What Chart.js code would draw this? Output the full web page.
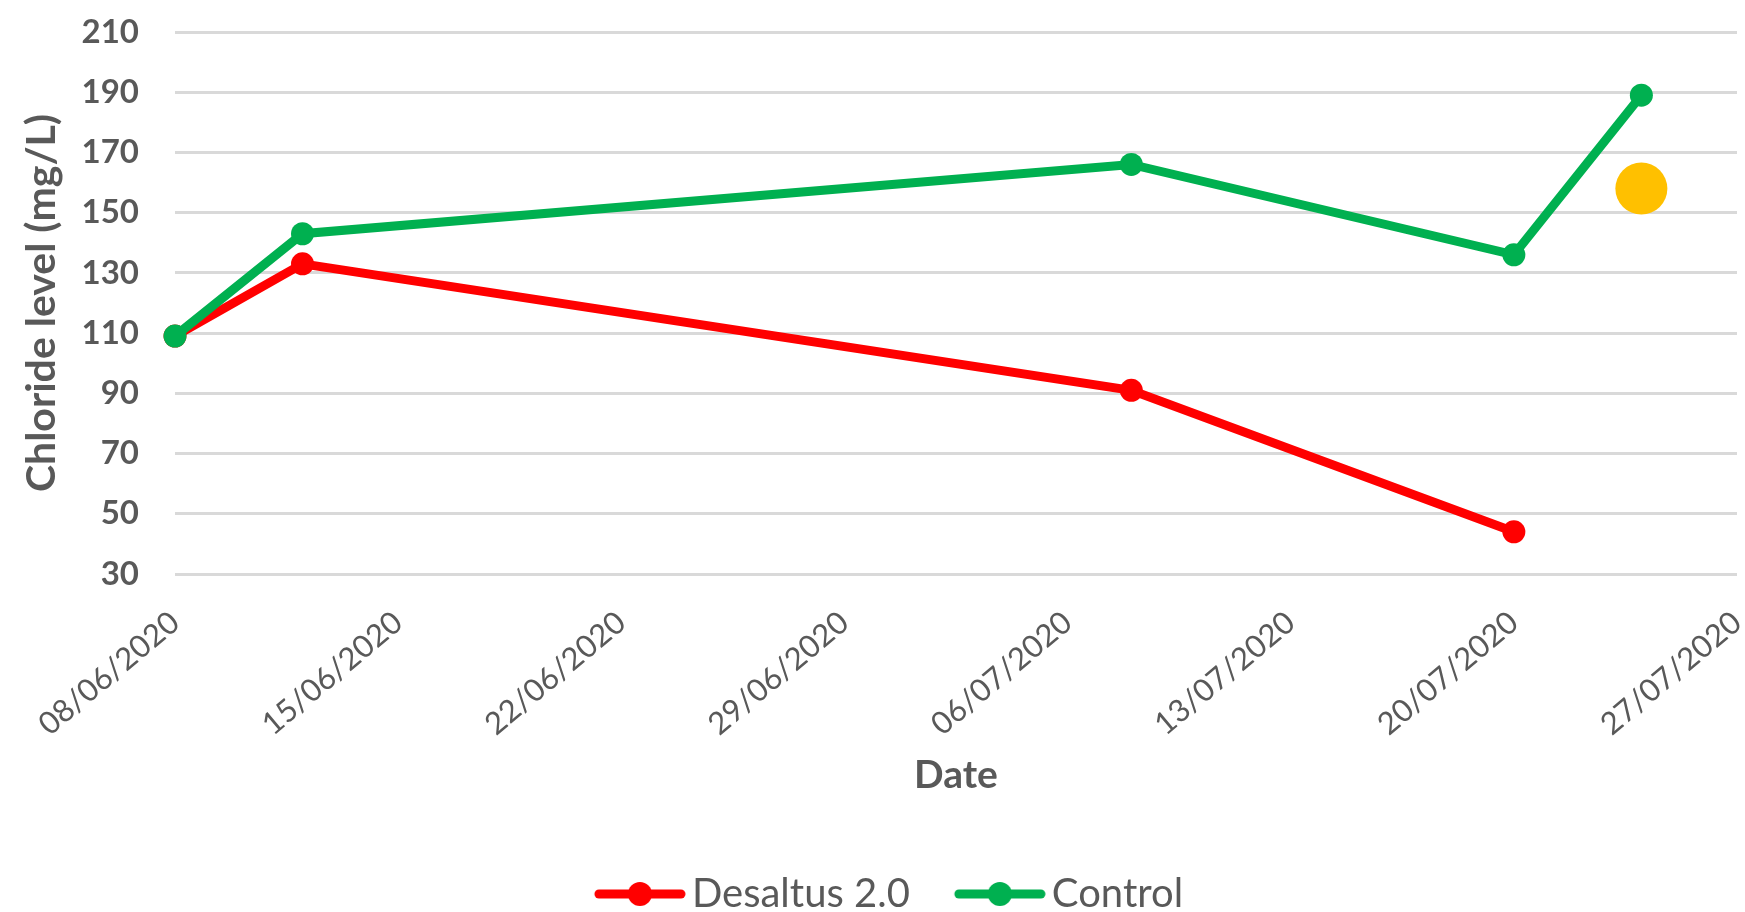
<!DOCTYPE html>
<html lang="en">
<head>
    <meta charset="UTF-8">
    <title>Chloride level</title>
    <script src="https://cdn.jsdelivr.net/npm/chart.js"></script>
    <style>
        html, body { margin: 0; padding: 0; background: #ffffff; }
        #wrap { width: 1745px; height: 912px; position: relative; }
    </style>
</head>
<body>
    <div id="wrap"><canvas id="chlorideChart"></canvas></div>
    <script>
        // data
        const sampleDates = ['08/06/2020', '12/06/2020', '08/07/2020', '20/07/2020', '24/07/2020'];
        const desaltusValues = [109, 133, 91, 44, null];
        const controlValues = [109, 143, 166, 136, 189];
        const highlightDate = '24/07/2020';
        const highlightValue = 158;
        const xTickLabels = ['08/06/2020', '15/06/2020', '22/06/2020', '29/06/2020',
                             '06/07/2020', '13/07/2020', '20/07/2020', '27/07/2020'];
        const yTicks = [30, 50, 70, 90, 110, 130, 150, 170, 190, 210];

        const FONT = 'Lato, "Liberation Sans", sans-serif';
        const GREY = '#595959';
        const RED = '#ff0000';
        const GREEN = '#00b050';

        function parseDay(s) {
            const p = s.split('/');
            return Date.UTC(+p[2], +p[1] - 1, +p[0]);
        }
        const day0 = parseDay(xTickLabels[0]);
        function dayOffset(s) { return (parseDay(s) - day0) / 86400000; }

        function toPoints(values) {
            return sampleDates.map((d, i) => ({ x: dayOffset(d), y: values[i] }))
                              .filter(p => p.y !== null);
        }

        // legend symbol: line with a dot, sitting right up against the label text
        function legendSymbol(color) {
            const c = document.createElement('canvas');
            c.width = 146; c.height = 30;
            const g = c.getContext('2d');
            g.strokeStyle = color;
            g.lineWidth = 9;
            g.lineCap = 'round';
            g.beginPath(); g.moveTo(59, 15); g.lineTo(141, 15); g.stroke();
            g.fillStyle = color;
            g.beginPath(); g.arc(100, 15, 12, 0, Math.PI * 2); g.fill();
            return c;
        }

        const ctx = document.getElementById('chlorideChart').getContext('2d');
        new Chart(ctx, {
            type: 'line',
            data: {
                datasets: [
                    {
                        label: 'Desaltus 2.0',
                        data: toPoints(desaltusValues),
                        borderColor: RED,
                        backgroundColor: RED,
                        borderWidth: 9,
                        pointRadius: 11.5,
                        pointHoverRadius: 11.5,
                        pointBorderWidth: 0,
                        tension: 0,
                        clip: false,
                        order: 2
                    },
                    {
                        label: 'Control',
                        data: toPoints(controlValues),
                        borderColor: GREEN,
                        backgroundColor: GREEN,
                        borderWidth: 9,
                        pointRadius: 11.5,
                        pointHoverRadius: 11.5,
                        pointBorderWidth: 0,
                        tension: 0,
                        clip: false,
                        order: 1
                    },
                    {
                        label: 'highlight',
                        data: [{ x: dayOffset(highlightDate), y: highlightValue }],
                        showLine: false,
                        borderColor: '#ffc000',
                        backgroundColor: '#ffc000',
                        pointRadius: 26,
                        pointHoverRadius: 26,
                        pointBorderWidth: 0,
                        clip: false,
                        order: 0
                    }
                ]
            },
            options: {
                responsive: true,
                maintainAspectRatio: false,
                animation: false,
                layout: { autoPadding: false, padding: { top: 32, right: 8, left: 0, bottom: -12 } },
                plugins: {
                    tooltip: { enabled: false },
                    legend: {
                        position: 'bottom',
                        labels: {
                            usePointStyle: true,
                            pointStyleWidth: 118,
                            padding: 4,
                            color: GREY,
                            font: { family: FONT, size: 40 },
                            filter: item => item.text !== 'highlight',
                            generateLabels: chart => chart.data.datasets.map((ds, i) => ({
                                text: ds.label,
                                fillStyle: ds.borderColor,
                                strokeStyle: ds.borderColor,
                                fontColor: GREY,
                                lineWidth: 0,
                                pointStyle: legendSymbol(ds.borderColor),
                                datasetIndex: i,
                                hidden: false
                            }))
                        }
                    }
                },
                scales: {
                    x: {
                        type: 'linear',
                        min: 0,
                        max: 49,
                        afterBuildTicks: s => { s.ticks = xTickLabels.map(t => ({ value: dayOffset(t) })); },
                        afterFit: s => { s.height = 296; s.paddingLeft = 0; s.paddingRight = 0; },
                        grid: { display: false, drawTicks: false },
                        border: { display: false },
                        ticks: {
                            autoSkip: false,
                            minRotation: 40,
                            maxRotation: 40,
                            padding: 30,
                            color: GREY,
                            font: { family: FONT, size: 31 },
                            callback: (v, i) => xTickLabels[i]
                        },
                        title: {
                            display: true,
                            text: 'Date',
                            color: GREY,
                            font: { family: FONT, size: 39, weight: 'bold' },
                            padding: { top: 0, bottom: 71 }
                        }
                    },
                    y: {
                        min: yTicks[0],
                        max: yTicks[yTicks.length - 1],
                        afterBuildTicks: s => { s.ticks = yTicks.map(v => ({ value: v })); },
                        afterFit: s => { s.width = 175; s.paddingTop = 0; s.paddingBottom = 0; },
                        grid: { color: '#d9d9d9', lineWidth: 3, drawTicks: false },
                        border: { display: false },
                        ticks: {
                            padding: 36,
                            color: GREY,
                            font: { family: FONT, size: 33, weight: 'bold' }
                        },
                        title: {
                            display: true,
                            text: 'Chloride level (mg/L)',
                            color: GREY,
                            font: { family: FONT, size: 41, weight: 'bold' },
                            padding: { top: 17, bottom: 0 }
                        }
                    }
                }
            }
        });
    </script>
</body>
</html>
